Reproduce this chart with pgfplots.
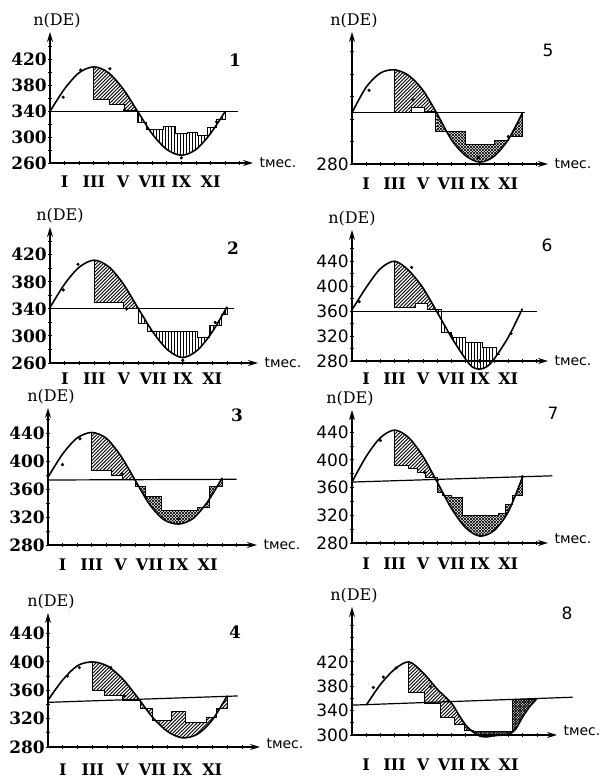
\documentclass[border=0pt]{standalone}
\usepackage{fontspec}
\setmainfont{DejaVu Serif}
\newfontfamily\sansf{DejaVu Sans}
\usepackage{pgfplots}
\pgfplotsset{compat=1.18}
\usetikzlibrary{patterns,arrows.meta}

\pgfdeclarepatternformonly{hne}{\pgfqpoint{-1pt}{-1pt}}{\pgfqpoint{4.5pt}{4.5pt}}{\pgfqpoint{3.5pt}{3.5pt}}{%
  \pgfsetlinewidth{0.75pt}%
  \pgfpathmoveto{\pgfqpoint{-0.1pt}{-0.1pt}}%
  \pgfpathlineto{\pgfqpoint{3.6pt}{3.6pt}}%
  \pgfusepath{stroke}}
\pgfdeclarepatternformonly{hvl}{\pgfqpoint{-1pt}{-1pt}}{\pgfqpoint{1pt}{4pt}}{\pgfqpoint{3pt}{3pt}}{%
  \pgfsetlinewidth{0.75pt}%
  \pgfpathmoveto{\pgfqpoint{0pt}{-0.5pt}}%
  \pgfpathlineto{\pgfqpoint{0pt}{3.5pt}}%
  \pgfusepath{stroke}}
\pgfdeclarepatternformonly{hxh}{\pgfqpoint{-1pt}{-1pt}}{\pgfqpoint{4pt}{4pt}}{\pgfqpoint{3pt}{3pt}}{%
  \pgfsetlinewidth{0.65pt}%
  \pgfpathmoveto{\pgfqpoint{-0.1pt}{-0.1pt}}%
  \pgfpathlineto{\pgfqpoint{3.1pt}{3.1pt}}%
  \pgfpathmoveto{\pgfqpoint{-0.1pt}{3.1pt}}%
  \pgfpathlineto{\pgfqpoint{3.1pt}{-0.1pt}}%
  \pgfusepath{stroke}}
\pgfdeclarepatternformonly{hdk}{\pgfqpoint{-1pt}{-1pt}}{\pgfqpoint{3.6pt}{3.6pt}}{\pgfqpoint{2.6pt}{2.6pt}}{%
  \pgfsetlinewidth{0.7pt}%
  \pgfpathmoveto{\pgfqpoint{-0.1pt}{-0.1pt}}%
  \pgfpathlineto{\pgfqpoint{2.7pt}{2.7pt}}%
  \pgfpathmoveto{\pgfqpoint{-0.1pt}{2.7pt}}%
  \pgfpathlineto{\pgfqpoint{2.7pt}{-0.1pt}}%
  \pgfusepath{stroke}}

\newcommand\serifnum{\fontsize{17}{17}\selectfont\bfseries}
\newcommand\sansnum{\sansf\fontsize{17}{17}\selectfont}
\newcommand\romf{\fontsize{16}{16}\selectfont\bfseries}
\newcommand\labf{\fontsize{16}{16}\selectfont}
\newcommand\tmf{\sansf\fontsize{14}{14}\selectfont}
\newcommand\pnumf{\fontsize{17}{17}\selectfont\bfseries}
\newcommand\pnums{\sansf\fontsize{17}{17}\selectfont}

\pgfplotsset{
 panel/.style={
  scale only axis, anchor=south west, axis lines=left, clip=false,
  axis line style={line width=1.4pt, -{Stealth[length=10pt,width=6pt]}},
  xmin=0,
  xtick={1,3,5,7,9,11}, xticklabels={I,III,V,VII,IX,XI},
  minor xtick={1,...,13},
  tick align=center, major tick length=4pt, minor tick length=4pt,
  tick style={black, line width=1pt},
  xticklabel style={font=\romf, anchor=center},
  yticklabel style={inner sep=1pt},
  /pgf/number format/assume math mode=true,
  every axis y label/.style={at={(axis description cs:0,1)}, anchor=south, font=\labf},
  every axis x label/.style={at={(axis description cs:1,0)}, anchor=west, font=\tmf, xshift=3pt},
  ylabel={n(DE)}, xlabel={tмес.},
 },
 pcurve/.style={black, line width=1.6pt, smooth},
 pstep/.style={black, line width=1pt, sharp plot},
 pmean/.style={black, line width=1.2pt, sharp plot},
 pdots/.style={only marks, mark=*, mark size=1.4pt, black},
 hatchA/.style={draw=none, sharp plot, pattern=hne},
 hatchV/.style={draw=none, sharp plot, pattern=hvl},
 hatchX/.style={draw=none, sharp plot, pattern=hxh},
 hatchD/.style={draw=none, sharp plot, pattern=hdk},
}

\begin{document}
\begin{tikzpicture}
\useasboundingbox (0,0) rectangle (614pt,-780pt);

% ---------- Panel 1 ----------
\begin{axis}[panel, at={(50pt,-163pt)}, width=203pt, height=131pt,
  xmax=13.9, ymin=260, ymax=463,
  ytick={260,300,340,380,420}, minor ytick={280,320,360,400,440},
  yticklabel style={font=\serifnum}, xticklabel style={yshift=-17pt},
  ylabel style={xshift=7pt}]
\addplot[hatchA] coordinates {(3,409) (4,400) (5,375) (6,340) (6,342) (5.1,342) (5.1,350) (4.1,350) (4.1,358) (3,358)} -- cycle;
\addplot[hatchV] coordinates {(6,340) (7,305) (8,281) (9,272) (10,281) (11,306) (12,340) (12,328) (11.4,328) (11.4,315) (10.8,315) (10.8,302) (10.1,302) (10.1,308) (9.4,308) (9.4,305) (8.6,305) (8.6,316) (7.8,316) (7.8,312) (6.6,312) (6.6,322) (6,322) (6,342)} -- cycle;
\addplot[pmean] coordinates {(0,340) (12.9,340)};
\addplot[pcurve] coordinates {(0,340) (1,375) (2,400) (3,409) (4,400) (5,375) (6,340) (7,305) (8,281) (9,272) (10,281) (11,306) (12,340)};
\addplot[pstep] coordinates {(3,409) (3,358) (4.1,358) (4.1,350) (5.1,350) (5.1,342) (6,342) (6,322) (6.6,322) (6.6,312) (7.8,312) (7.8,316) (8.6,316) (8.6,305) (9.4,305) (9.4,308) (10.1,308) (10.1,302) (10.8,302) (10.8,315) (11.4,315) (11.4,328) (12,328) (12,340)};
\addplot[pdots] coordinates {(0.9,362) (2.1,404) (4.1,406) (5.1,342) (9,268) (11.4,324)};
\end{axis}

% ---------- Panel 2 ----------
\begin{axis}[panel, at={(50pt,-363pt)}, width=208pt, height=136pt,
  xmax=14.1, ymin=260, ymax=461,
  ytick={260,300,340,380,420}, minor ytick={280,320,360,400,440},
  yticklabel style={font=\serifnum}, xticklabel style={yshift=-14pt},
  ylabel style={xshift=10pt}]
\addplot[hatchA] coordinates {(3,412) (4,402) (5,376) (6,340) (6,341) (5,341) (5,349) (3,349)} -- cycle;
\addplot[hatchV] coordinates {(6,340) (7,305) (8,279) (9,268) (10,279) (11,306) (12,343) (12,332) (11.6,332) (11.6,316) (10.8,316) (10.8,298) (10,298) (10,307) (6.6,307) (6.6,318) (6,318) (6,341)} -- cycle;
\addplot[pmean] coordinates {(0,340) (12.5,340)};
\addplot[pcurve] coordinates {(0,342) (1,377) (2,402) (3,412) (4,402) (5,376) (6,340) (7,305) (8,279) (9,268) (10,279) (11,306) (12,343)};
\addplot[pstep] coordinates {(3,412) (3,349) (5,349) (5,341) (6,341) (6,318) (6.6,318) (6.6,307) (10,307) (10,298) (10.8,298) (10.8,316) (11.6,316) (11.6,332) (12,332) (12,343)};
\addplot[pdots] coordinates {(0.9,368) (1.9,406) (5.2,340) (9,264) (11.2,320) (11.8,333)};
\end{axis}

% ---------- Panel 3 ----------
\begin{axis}[panel, at={(48pt,-545pt)}, width=209pt, height=137pt,
  xmax=14.4, ymin=280, ymax=476,
  ytick={280,320,360,400,440}, minor ytick={300,340,380,420,460},
  yticklabel style={font=\serifnum}, xticklabel style={yshift=-18pt},
  ylabel style={xshift=3pt}]
\addplot[hatchA] coordinates {(3,441) (4,433) (5,408) (6,373) (6,374) (5.1,374) (5.1,380) (4.4,380) (4.4,387) (3,387)} -- cycle;
\addplot[hatchX] coordinates {(6,373) (7,338) (8,316) (9,310) (10,318) (11,342) (12,376) (12,363) (11.1,363) (11.1,334) (10.3,334) (10.3,330) (7.8,330) (7.8,349) (6.7,349) (6.7,363) (6,363) (6,374)} -- cycle;
\addplot[pmean] coordinates {(0,373) (13,374)};
\addplot[pcurve] coordinates {(0,377) (1,410) (2,433) (3,441) (4,433) (5,408) (6,373) (7,338) (8,316) (9,310) (10,318) (11,342) (12,376)};
\addplot[pstep] coordinates {(3,441) (3,387) (4.4,387) (4.4,380) (5.1,380) (5.1,374) (6,374) (6,363) (6.7,363) (6.7,349) (7.8,349) (7.8,330) (10.3,330) (10.3,334) (11.1,334) (11.1,363) (12,363) (12,376)};
\addplot[pdots] coordinates {(1,395) (2.2,432) (5.1,382) (9,318)};
\end{axis}

% ---------- Panel 4 ----------
\begin{axis}[panel, at={(48pt,-747pt)}, width=212pt, height=134pt,
  xmax=14.2, ymin=280, ymax=469,
  ytick={280,320,360,400,440}, minor ytick={300,340,380,420,460},
  yticklabel style={font=\serifnum}, xticklabel style={yshift=-21pt},
  ylabel style={xshift=3pt}, xlabel style={yshift=3pt}]
\addplot[hatchA] coordinates {(3,400) (4,394) (5,376) (6,350) (6,346) (5,346) (5,353) (3.8,353) (3.8,360) (3,360)} -- cycle;
\addplot[hatchA] coordinates {(6,350) (7,322) (8,302) (9,293) (10,298) (11,318) (12,352) (12,335) (11.3,335) (11.3,322) (10.6,322) (10.6,314) (9.2,314) (9.2,330) (8.3,330) (8.3,318) (7,318) (7,335) (6.2,335) (6.2,346) (6,346)} -- cycle;
\addplot[pmean] coordinates {(0,343) (12.7,352)};
\addplot[pcurve] coordinates {(0,346) (1,375) (2,395) (3,400) (4,394) (5,376) (6,350) (7,322) (8,302) (9,293) (10,298) (11,318) (12,352)};
\addplot[pstep] coordinates {(3,400) (3,360) (3.8,360) (3.8,353) (5,353) (5,346) (6.2,346) (6.2,335) (7,335) (7,318) (8.3,318) (8.3,330) (9.2,330) (9.2,314) (10.6,314) (10.6,322) (11.3,322) (11.3,335) (12,335) (12,352)};
\addplot[pdots] coordinates {(1.3,380) (2.1,392) (4.2,392) (5.1,352)};
\end{axis}

% ---------- Panel 5 ----------
\begin{axis}[panel, at={(352pt,-164pt)}, width=196pt, height=132pt,
  xmax=13.8, ymin=280, ymax=486,
  ytick={280}, minor ytick={315,350,385,420,455},
  yticklabel style={font=\sansnum}, xticklabel style={yshift=-18pt},
  ylabel style={xshift=2pt}]
\addplot[hatchA] coordinates {(3,427) (4,418) (5,395) (6,358) (6,330) (5.9,330) (5.9,362) (5.1,362) (5.1,368) (4.2,368) (4.2,361) (3,361)} -- cycle;
\addplot[hatchX] coordinates {(6,358) (7,318) (8,293) (9,283) (10,292) (11,318) (12,360) (12,323) (11,323) (11,316) (10,316) (10,310) (8,310) (8,330) (6,330)} -- cycle;
\addplot[pmean] coordinates {(0,360) (12.2,360)};
\addplot[pcurve] coordinates {(0,360) (1,400) (2,422) (3,427) (4,418) (5,395) (6,358) (7,318) (8,293) (9,283) (10,292) (11,318) (12,360)};
\addplot[pstep] coordinates {(3,427) (3,361) (4.2,361) (4.2,368) (5.1,368) (5.1,362) (5.9,362) (5.9,330) (8,330) (8,310) (10,310) (10,316) (11,316) (11,323) (12,323) (12,360)};
\addplot[pdots] coordinates {(1.2,395) (4.3,380) (8.9,290) (11,323)};
\end{axis}

% ---------- Panel 6 ----------
\begin{axis}[panel, at={(352pt,-361pt)}, width=196pt, height=131pt,
  xmax=13.8, ymin=280, ymax=490,
  ytick={280,320,360,400,440}, minor ytick={300,340,380,420,460},
  yticklabel style={font=\sansnum}, xticklabel style={yshift=-16pt},
  ylabel style={xshift=0pt}]
\addplot[hatchA] coordinates {(3,440) (4,425) (5,397) (6,358) (6,362) (5.3,362) (5.3,372) (4.5,372) (4.5,365) (3,365)} -- cycle;
\addplot[hatchV] coordinates {(6,358) (7,318) (8,283) (8.5,270) (9,267) (9.5,271) (10,283) (10,301) (9.2,301) (9.2,310) (8,310) (8,318) (7,318) (7,326) (6.3,326) (6.3,362) (6,362)} -- cycle;
\addplot[pmean] coordinates {(0,360) (13,360)};
\addplot[pcurve] coordinates {(0,362) (1,398) (2,428) (3,440) (4,425) (5,397) (6,358) (7,318) (8,283) (8.5,270) (9,267) (9.5,271) (10,283) (11,318) (12,364)};
\addplot[pstep] coordinates {(3,440) (3,365) (4.5,365) (4.5,372) (5.3,372) (5.3,362) (6.3,362) (6.3,326) (7,326) (7,318) (8,318) (8,310) (9.2,310) (9.2,301) (10.2,301) (10.2,290) (10.4,290)};
\addplot[pdots] coordinates {(0.5,375) (4.2,430) (7,320) (11.2,324)};
\end{axis}

% ---------- Panel 7 ----------
\begin{axis}[panel, at={(352pt,-543pt)}, width=196pt, height=133pt,
  xmax=13.8, ymin=280, ymax=472,
  ytick={280,320,360,400,440}, minor ytick={300,340,380,420,460},
  yticklabel style={font=\sansnum}, xticklabel style={yshift=-19pt},
  ylabel style={xshift=-2pt}, xlabel style={yshift=4pt}]
\addplot[hatchA] coordinates {(3,443) (4,432) (5,405) (6,368) (6,375) (5.2,375) (5.2,382) (4.6,382) (4.6,388) (4,388) (4,392) (3,392)} -- cycle;
\addplot[hatchX] coordinates {(6,368) (7,330) (8,302) (9,290) (10,298) (11,325) (12,375) (12,349) (11.3,349) (11.3,335) (10.8,335) (10.8,322) (10.3,322) (10.3,320) (7.8,320) (7.8,345) (7,345) (7,349) (6.4,349) (6.4,353) (6,353) (6,375)} -- cycle;
\addplot[pmean] coordinates {(0,368) (14.1,377)};
\addplot[pcurve] coordinates {(0,368) (1,405) (2,432) (3,443) (4,432) (5,405) (6,368) (7,330) (8,302) (9,290) (10,298) (11,325) (12,375)};
\addplot[pstep] coordinates {(3,443) (3,392) (4,392) (4,388) (4.6,388) (4.6,382) (5.2,382) (5.2,375) (6,375) (6,353) (6.4,353) (6.4,349) (7,349) (7,345) (7.8,345) (7.8,320) (10.3,320) (10.3,322) (10.8,322) (10.8,335) (11.3,335) (11.3,349) (12,349) (12,375)};
\addplot[pdots] coordinates {(2,428) (5.1,382) (6,370) (12,376)};
\end{axis}

% ---------- Panel 8 ----------
\begin{axis}[panel, at={(352pt,-735pt)}, width=205pt, height=128pt,
  xmax=14.4, ymin=300, ymax=510,
  ytick={300,340,380,420}, minor ytick={320,360,400,440,460,480},
  yticklabel style={font=\sansnum}, xticklabel style={yshift=-28pt},
  ylabel style={xshift=2pt}, xlabel style={yshift=4pt}]
\addplot[hatchA] coordinates {(4,420) (5,402) (6,375) (7,352) (7.5,333) (8,316) (8,307) (7.9,307) (7.9,318) (7.2,318) (7.2,328) (6.2,328) (6.2,351) (5.1,351) (5.1,370) (4,370)} -- cycle;
\addplot[hatchD] coordinates {(8,316) (8.5,305) (9,298) (9.5,297) (10,299) (11,301) (11.5,310) (12,330) (12.5,347) (13,360) (13,358) (11.3,358) (11.3,305) (8.5,305) (8.5,307) (8,307)} -- cycle;
\addplot[pmean] coordinates {(0,349) (15.5,362)};
\addplot[pcurve] coordinates {(1,349) (2,383) (3,408) (4,420) (5,402) (6,375) (7,352) (7.5,333) (8,316) (8.5,305) (9,298) (9.5,297) (10,299) (11,301) (11.5,310) (12,330) (12.5,347) (13,360)};
\addplot[pstep] coordinates {(4,420) (4,370) (5.1,370) (5.1,351) (6.2,351) (6.2,328) (7.2,328) (7.2,318) (7.9,318) (7.9,307) (8.5,307) (8.5,305) (11.3,305) (11.3,358) (13,358)};
\addplot[pdots] coordinates {(1.5,378) (2.2,395) (3.1,410) (5.5,380)};
\end{axis}

% panel numbers
\node[font=\pnumf] at (235pt,-60pt) {1};
\node[font=\pnumf] at (233pt,-248pt) {2};
\node[font=\pnumf] at (237pt,-415pt) {3};
\node[font=\pnumf] at (235pt,-632pt) {4};
\node[font=\pnums] at (548pt,-50pt) {5};
\node[font=\pnums] at (547pt,-245pt) {6};
\node[font=\pnums] at (553pt,-413pt) {7};
\node[font=\pnums] at (567pt,-613pt) {8};
\end{tikzpicture}
\end{document}
